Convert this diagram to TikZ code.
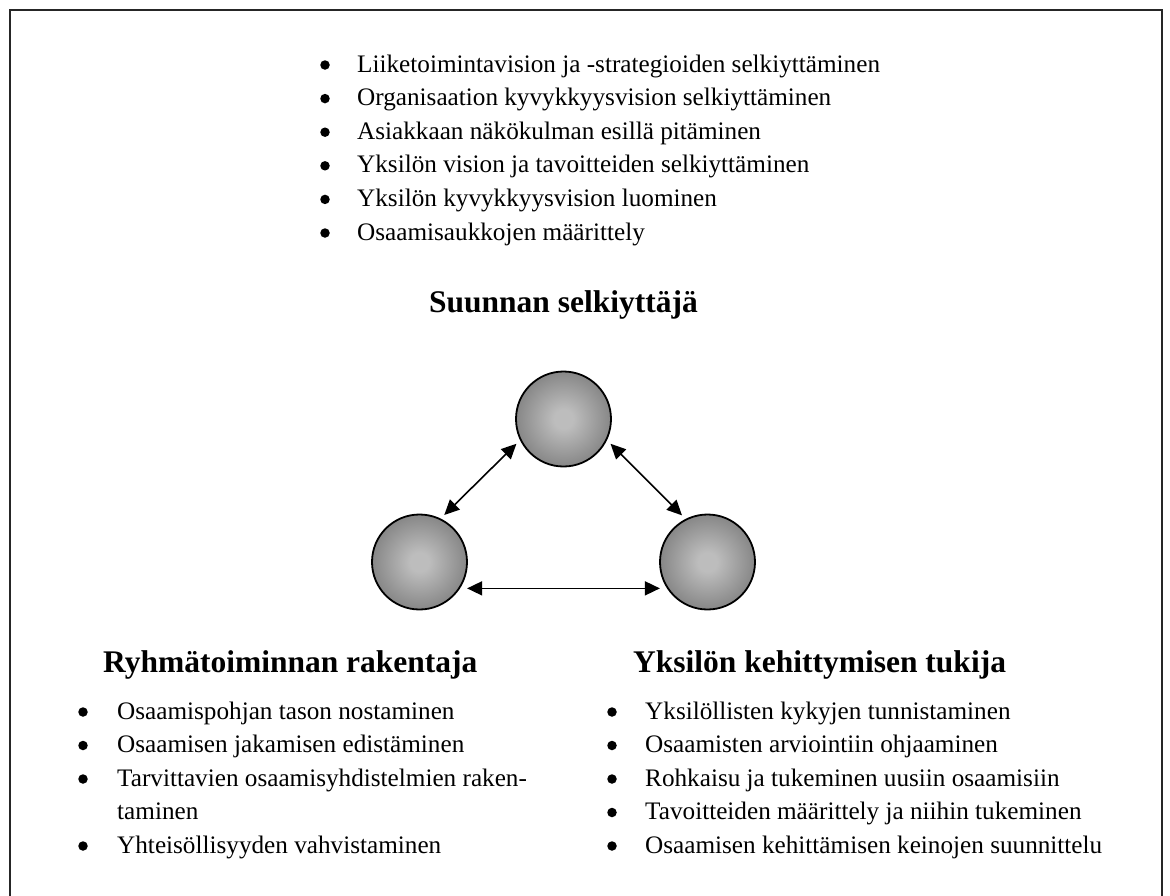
\documentclass[tikz,border=0pt]{standalone}
\usepackage{fontspec}
\setmainfont{Liberation Serif}
\usetikzlibrary{arrows.meta}
\definecolor{sphlight}{HTML}{BDBDBD}
\definecolor{sphdark}{HTML}{464646}
\pgfdeclareradialshading{sphereshade}{\pgfpoint{0bp}{0bp}}{color(0bp)=(sphlight); color(5bp)=(sphlight); color(49bp)=(sphdark); color(75bp)=(sphdark)}
\tikzset{
  body/.style={font=\fontsize{25.2}{30}\selectfont, inner sep=0pt, anchor=base west},
  head/.style={font=\fontsize{31.5}{36}\selectfont\bfseries, inner sep=0pt},
  bul/.style={circle, fill=black, inner sep=0pt, minimum size=9.5pt},
  sphere/.style={circle, draw=black, line width=1.8pt, minimum size=95pt, inner sep=0pt, shading=sphereshade},
  conn/.style={{Triangle[length=15pt,width=14pt]}-{Triangle[length=15pt,width=14pt]}, line width=1.6pt, shorten <=5pt, shorten >=5pt},
  framel/.style={line width=2pt, black!85}
}
\begin{document}
\begin{tikzpicture}[x=1pt,y=-1pt]
\useasboundingbox (0,0) rectangle (1170,895);
\fill[white] (0,0) rectangle (1170,895);
\draw[framel] (10,900) -- (10,10) -- (1162,10) -- (1162,900);

% top list
\foreach \i/\t in {0/{Liiketoimintavision ja -strategioiden selkiyttäminen},
                   1/{Organisaation kyvykkyysvision selkiyttäminen},
                   2/{Asiakkaan näkökulman esillä pitäminen},
                   3/{Yksilön vision ja tavoitteiden selkiyttäminen},
                   4/{Yksilön kyvykkyysvision luominen},
                   5/{Osaamisaukkojen määrittely}}{
  \node[bul] (tb\i) at (325, 72+33.6*\i-7) {};
  \node[body] (tt\i) at (357, 72+33.6*\i) {\t};
}

\node[head, anchor=base] (title) at (563.5,312) {Suunnan selkiyttäjä};

% circles
\node[sphere] (top) at (563.5,419) {};
\node[sphere] (left) at (419.5,562) {};
\node[sphere] (right) at (707.5,562) {};

\draw[conn] (top.206) -- (left.64);
\draw[conn] (top.334) -- (right.117);
\draw[conn, shorten <=7pt, shorten >=7pt] (left.327) -- (right.213);

% left group
\node[head, anchor=base west] (lhead) at (103,672) {Ryhmätoiminnan rakentaja};
\node[bul] (lb1) at (83,712) {};
\node[body] (lt1) at (117,719) {Osaamispohjan tason nostaminen};
\node[bul] (lb2) at (83,745.5) {};
\node[body] (lt2) at (117,752.5) {Osaamisen jakamisen edistäminen};
\node[bul] (lb3) at (83,779) {};
\node[body] (lt3) at (117,786) {Tarvittavien osaamisyhdistelmien raken-};
\node[body] (lt3b) at (117,819.5) {taminen};
\node[bul] (lb4) at (83,846) {};
\node[body] (lt4) at (117,853) {Yhteisöllisyyden vahvistaminen};

% right group
\node[head, anchor=base west] (rhead) at (633,672) {Yksilön kehittymisen tukija};
\foreach \i/\t in {0/{Yksilöllisten kykyjen tunnistaminen},
                   1/{Osaamisten arviointiin ohjaaminen},
                   2/{Rohkaisu ja tukeminen uusiin osaamisiin},
                   3/{Tavoitteiden määrittely ja niihin tukeminen},
                   4/{Osaamisen kehittämisen keinojen suunnittelu}}{
  \node[bul] (rb\i) at (612, 719+33.5*\i-7) {};
  \node[body] (rt\i) at (645, 719+33.5*\i) {\t};
}
\end{tikzpicture}
\end{document}
